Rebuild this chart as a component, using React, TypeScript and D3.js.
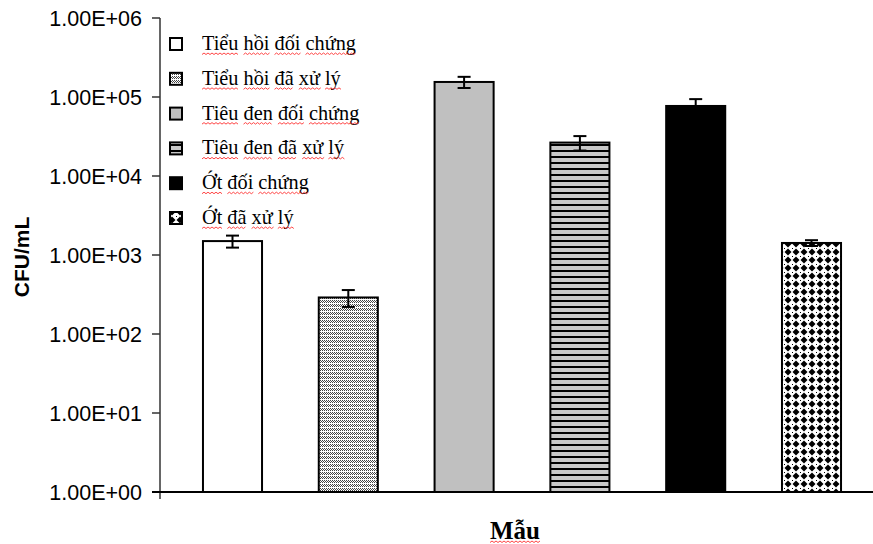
import React from "react";
import * as d3 from "d3";

const categories = [
  "Tiểu hồi đối chứng",
  "Tiểu hồi đã xử lý",
  "Tiêu đen đối chứng",
  "Tiêu đen đã xử lý",
  "Ớt đối chứng",
  "Ớt đã xử lý",
];
const means = [1500, 290, 155000, 26500, 77000, 1420];
const errors = [260, 70, 25000, 5500, 17000, 120];
const yTicks = [1, 10, 100, 1000, 10000, 100000, 1000000];
const yTickLabels = ["1.00E+00", "1.00E+01", "1.00E+02", "1.00E+03", "1.00E+04", "1.00E+05", "1.00E+06"];
const fills = ["#ffffff", "url(#pDots)", "#c0c0c0", "url(#pStripes)", "#000000", "url(#pDiamond)"];

const W = 873;
const H = 544;
const axisX = 160;
const top = 18;
const bottom = 492;

type Sq = { x: number; w: number; y: number };

function zigzag(s: Sq) {
  const step = 2;
  let d = `M${s.x},${s.y}`;
  let up = true;
  for (let xx = s.x + step; xx <= s.x + s.w; xx += step) {
    d += ` L${xx},${s.y + (up ? -1.5 : 0)}`;
    up = !up;
  }
  return d;
}

export default function App() {
  const svgRef = React.useRef<SVGSVGElement>(null);
  const [sqs, setSqs] = React.useState<Sq[]>([]);

  React.useLayoutEffect(() => {
    const svg = svgRef.current;
    if (!svg) return;
    const out: Sq[] = [];
    svg.querySelectorAll("tspan[data-sq]").forEach((el) => {
      const b = (el as SVGGraphicsElement).getBBox();
      const off = parseFloat((el as Element).getAttribute("data-sq") || "3");
      const text = el.parentNode as SVGTextElement;
      const baseY = parseFloat(text.getAttribute("y") || "0");
      out.push({ x: b.x, w: b.width, y: baseY + off });
    });
    setSqs(out);
  }, []);

  const y = d3.scaleLog().domain([1, 1e6]).range([bottom, top]);
  const x = d3
    .scaleBand<string>()
    .domain(categories)
    .range([174.6, 869.4])
    .paddingInner(0.49)
    .paddingOuter(0.245);
  const bw = x.bandwidth();
  const capW = 13;

  const legendX = 170;
  const legendY0 = 44;
  const legendStep = 34.8;

  const renderWords = (s: string) => {
    const words = s.split(" ");
    const out: React.ReactNode[] = [];
    words.forEach((w, i) => {
      out.push(
        <tspan key={"w" + i} data-sq="4.5">
          {w}
        </tspan>
      );
      if (i < words.length - 1) out.push(<tspan key={"s" + i}> </tspan>);
    });
    return out;
  };

  return (
    <svg
      ref={svgRef}
      width={W}
      height={H}
      viewBox={`0 0 ${W} ${H}`}
      style={{ position: "absolute", left: 0, top: 0, background: "#fff" }}
    >
      <defs>
        <pattern id="pDots" width="4" height="4" patternUnits="userSpaceOnUse">
          <rect width="4" height="4" fill="#ffffff" />
          <rect x="0" y="0" width="1" height="1" fill="#444" />
          <rect x="2" y="0" width="1" height="1" fill="#444" />
          <rect x="1" y="1" width="1" height="1" fill="#444" />
          <rect x="3" y="1" width="1" height="1" fill="#444" />
          <rect x="0" y="2" width="1" height="1" fill="#444" />
          <rect x="2" y="2" width="1" height="1" fill="#444" />
        </pattern>
        <pattern id="pStripes" width="6" height="6" patternUnits="userSpaceOnUse">
          <rect width="6" height="6" fill="#c8c8c8" />
          <rect x="0" y="0" width="6" height="2" fill="#000" />
        </pattern>
        <pattern id="pDiamond" width="8" height="8" patternUnits="userSpaceOnUse">
          <rect width="8" height="8" fill="#ffffff" />
          <path d="M4,0.5 L7.5,4 L4,7.5 L0.5,4 Z" fill="#000" />
          <rect x="0" y="0" width="1" height="1" fill="#000" />
        </pattern>
      </defs>

      {/* Y axis */}
      <line x1={axisX} x2={axisX} y1={top} y2={bottom + 7} stroke="#333" strokeWidth={1.5} />
      {yTicks.map((t, i) => (
        <g key={t}>
          <line x1={axisX - 8} x2={axisX} y1={y(t)} y2={y(t)} stroke="#333" strokeWidth={1.5} />
          <text
            x={142}
            y={y(t)}
            dy="0.36em"
            textAnchor="end"
            fontFamily="'Liberation Sans', Arial, sans-serif"
            fontSize={21.5}
            fill="#000"
          >
            {yTickLabels[i]}
          </text>
        </g>
      ))}
      <text
        transform={`translate(29,${(top + bottom) / 2 + 2}) rotate(-90)`}
        textAnchor="middle"
        fontFamily="'Liberation Sans', Arial, sans-serif"
        fontWeight="bold"
        fontSize={21}
        fill="#000"
      >
        CFU/mL
      </text>

      {/* Bars */}
      {categories.map((c, i) => (
        <rect
          key={c}
          x={x(c)}
          y={y(means[i])}
          width={bw}
          height={bottom - y(means[i])}
          fill={fills[i]}
          stroke="#000"
          strokeWidth={2}
        />
      ))}

      {/* Error bars */}
      {categories.map((c, i) => {
        const cx = (x(c) as number) + bw / 2;
        const yt = y(means[i] + errors[i]);
        const yb = y(means[i] - errors[i]);
        return (
          <g key={"e" + c} stroke="#000" strokeWidth={2}>
            <line x1={cx} x2={cx} y1={yt} y2={yb} />
            <line x1={cx - capW / 2} x2={cx + capW / 2} y1={yt} y2={yt} />
            <line x1={cx - capW / 2} x2={cx + capW / 2} y1={yb} y2={yb} />
          </g>
        );
      })}

      {/* X axis */}
      <line x1={axisX - 8} x2={W} y1={bottom} y2={bottom} stroke="#000" strokeWidth={2} />

      {/* Legend */}
      {categories.map((c, i) => {
        const cy = legendY0 + i * legendStep;
        return (
          <g key={"l" + c}>
            <rect x={legendX} y={cy - 6} width={12} height={12} fill={fills[i]} stroke="#000" strokeWidth={2} />
            <text
              x={202}
              y={cy + 6}
              fontFamily="'Liberation Serif', 'Times New Roman', serif"
              fontSize={20.3}
              fill="#000"
            >
              {renderWords(c)}
            </text>
          </g>
        );
      })}

      {/* X axis title */}
      <text
        x={515}
        y={539}
        textAnchor="middle"
        fontFamily="'Liberation Serif', 'Times New Roman', serif"
        fontWeight="bold"
        fontSize={25}
        fill="#000"
      >
        <tspan data-sq="3.5">Mẫu</tspan>
      </text>

      {/* Spell-check squiggles */}
      {sqs.map((s, i) => (
        <path key={"sq" + i} d={zigzag(s)} fill="none" stroke="#ff3030" strokeWidth={0.9} />
      ))}
    </svg>
  );
}
